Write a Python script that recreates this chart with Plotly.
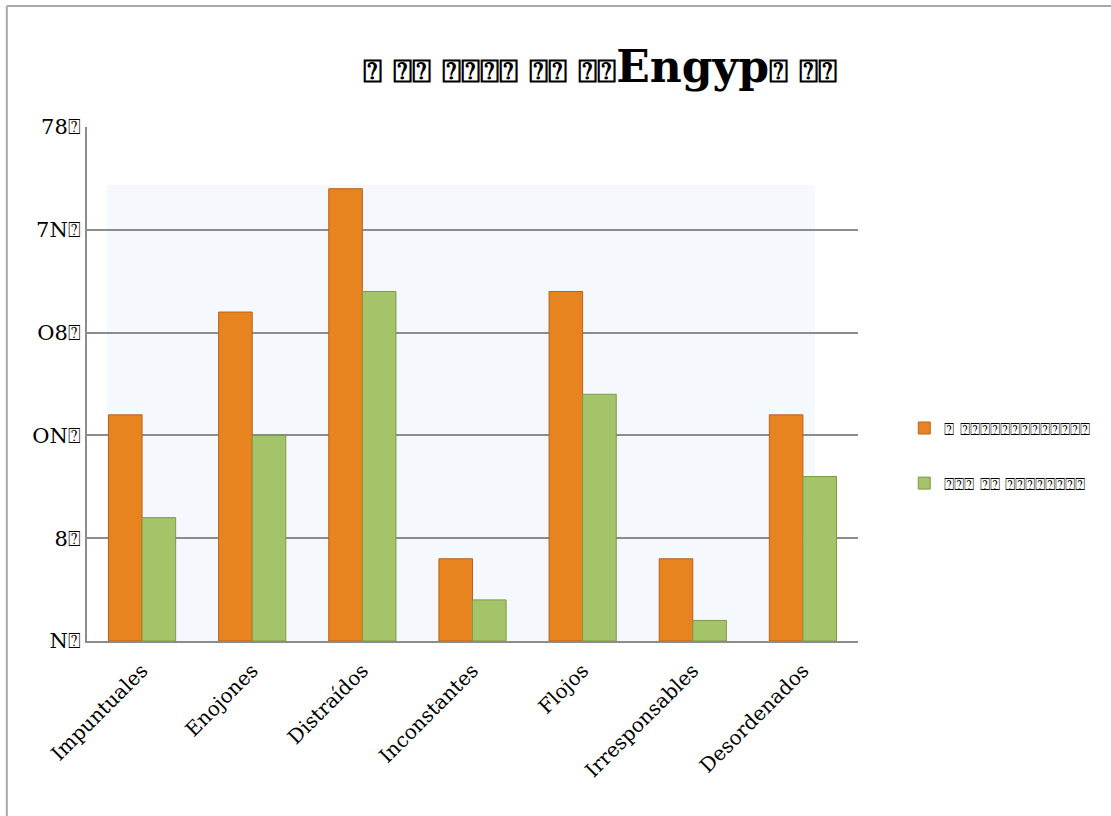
import plotly.graph_objects as go

categories = ["Impuntuales", "Enojones", "Distraídos", "Inconstantes", "Flojos", "Irresponsables", "Desordenados"]
series_a_name = "⍰ ⍰⍰⍰⍰⍰⍰⍰⍰⍰⍰⍰⍰⍰"
series_b_name = "⍰⍰⍰ ⍰⍰ ⍰⍰⍰⍰⍰⍰⍰⍰"
series_a = [11, 16, 22, 4, 17, 4, 11]
series_b = [6, 10, 17, 2, 12, 1, 8]
tick_vals = [0, 5, 10, 15, 20, 25]
tick_text = ["N⍰", "8⍰", "ON⍰", "O8⍰", "7N⍰", "78⍰"]
title_pre = "⍰ ⍰⍰ ⍰⍰⍰⍰ ⍰⍰ ⍰⍰"
title_mid = "Engyp"
title_post = "⍰ ⍰⍰"

FONT = "DejaVu Serif"

fig = go.Figure()
fig.add_trace(go.Bar(
    x=categories, y=series_a, name=series_a_name, legendgroup="a",
    marker=dict(color="#E8841F", line=dict(color="#B9621C", width=1)),
))
fig.add_trace(go.Bar(
    x=categories, y=series_b, name=series_b_name, legendgroup="b",
    marker=dict(color="#A5C46A", line=dict(color="#7C9A47", width=1)),
))

title_html = ("<b>" + title_pre + "<span style='font-size:44px'>" + title_mid +
              "</span>" + title_post + "</b>")

fig.update_layout(
    width=1111, height=816,
    margin=dict(l=87, r=253, t=127, b=175),
    paper_bgcolor="white", plot_bgcolor="rgba(0,0,0,0)",
    barmode="group", bargap=0.39, bargroupgap=0.0,
    font=dict(family=FONT, color="black"),
    title=dict(text=title_html, x=0.54, xanchor="center",
               y=0.913, yanchor="middle", font=dict(size=32, family=FONT)),
    legend=dict(x=1.06, y=0.36, xanchor="left", yanchor="middle",
                font=dict(size=17, family=FONT), traceorder="grouped",
                tracegroupgap=30, bgcolor="rgba(0,0,0,0)"),
    xaxis=dict(tickangle=-45, tickfont=dict(size=20, family=FONT),
               showline=True, linecolor="#8c8c8c", linewidth=2,
               ticks="outside", ticklen=8, tickcolor="rgba(0,0,0,0)", showgrid=False),
    yaxis=dict(range=[0, 25], tickvals=tick_vals, ticktext=tick_text,
               tickfont=dict(size=21, family=FONT),
               showgrid=True, gridcolor="#8c8c8c", gridwidth=2,
               showline=True, linecolor="#8c8c8c", linewidth=2,
               ticks="", zeroline=False),
    shapes=[
        dict(type="rect", xref="paper", yref="paper", x0=0.026, x1=0.944,
             y0=0, y1=0.887, fillcolor="#F5F9FE", line=dict(width=0), layer="below"),
        dict(type="line", xref="paper", yref="paper", x0=-0.104, x1=-0.104,
             y0=-0.4, y1=1.2354, line=dict(color="#A8A8A8", width=2)),
        dict(type="line", xref="paper", yref="paper", x0=-0.104, x1=1.4,
             y0=1.2354, y1=1.2354, line=dict(color="#A8A8A8", width=2)),
    ],
)

fig.write_html("out.html")
